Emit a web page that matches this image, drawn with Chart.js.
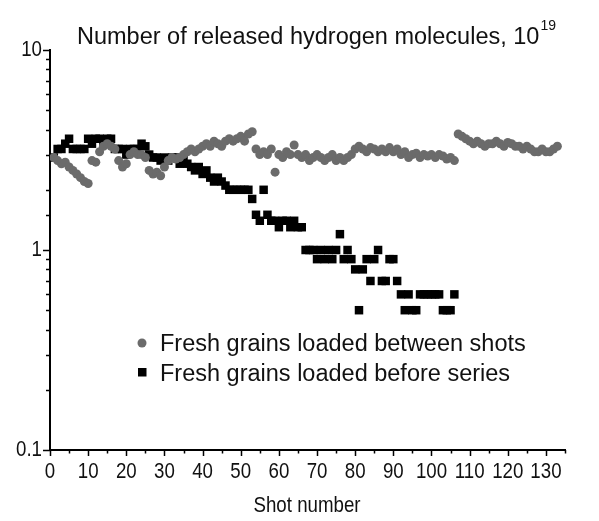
<!DOCTYPE html>
<html>
<head>
<meta charset="utf-8">
<script src="https://cdn.jsdelivr.net/npm/chart.js@4.4.1/dist/chart.umd.min.js"></script>
<style>
  body { margin: 0; background: #fff; }
  #wrap { width: 599px; height: 521px; }
</style>
</head>
<body>
<div id="wrap"><canvas id="shotChart" width="599" height="521"></canvas></div>
<script>
// shots 1..133, fresh grains loaded between shots (grey dots)
var betweenShots = [
    2.9, 2.8, 2.7, 2.75, 2.6, 2.5, 2.4, 2.3, 2.2, 2.15,
    2.8, 2.75, 3.1, 3.3, 3.4, 3.3, 3.2, 2.8, 2.6, 2.7,
    3.0, 3.1, 3.0, 3.0, 2.9, 2.5, 2.4, 2.45, 2.35, 2.6,
    2.8, 2.9, 2.85, 2.9, 3.0, 3.1, 3.2, 3.1, 3.2, 3.3,
    3.4, 3.3, 3.5, 3.4, 3.3, 3.5, 3.6, 3.5, 3.6, 3.7,
    3.5, 3.8, 3.9, 3.2, 3.0, 3.1, 3.0, 3.2, 2.45, 3.0,
    2.9, 3.1, 3.0, 3.35, 3.0, 2.9, 3.0, 2.8, 2.9, 3.0,
    2.9, 2.8, 2.9, 3.0, 2.8, 2.9, 2.8, 2.9, 3.0, 3.2,
    3.3, 3.2, 3.1, 3.25, 3.2, 3.1, 3.2, 3.1, 3.25, 3.1,
    3.2, 3.0, 3.1, 2.9, 3.0, 3.05, 2.9, 3.0, 2.95, 3.0,
    2.9, 3.0, 2.95, 2.85, 2.9, 2.8, 3.8, 3.7, 3.6, 3.5,
    3.4, 3.5, 3.4, 3.3, 3.4, 3.4, 3.5, 3.4, 3.3, 3.45,
    3.4, 3.3, 3.3, 3.2, 3.3, 3.2, 3.1, 3.1, 3.2, 3.1,
    3.1, 3.2, 3.3
];
// shots 1..106, fresh grains loaded before series (black squares)
var beforeSeries = [
    2.9, 3.2, 3.2, 3.4, 3.6, 3.2, 3.2, 3.2, 3.2, 3.6,
    3.4, 3.6, 3.6, 3.4, 3.6, 3.6, 3.2, 3.2, 3.2, 3.0,
    3.2, 3.2, 3.2, 3.4, 3.3, 3.0, 2.9, 2.9, 2.8, 2.9,
    2.8, 2.9, 2.9, 2.7, 2.9, 2.7, 2.6, 2.5, 2.6, 2.4,
    2.5, 2.3, 2.2, 2.3, 2.2, 2.1, 2.0, 2.0, 2.0, 2.0,
    2.0, 2.0, 1.8, 1.5, 1.4, 2.0, 1.5, 1.4, 1.4, 1.3,
    1.4, 1.4, 1.3, 1.4, 1.3, 1.3, 1.0, 1.0, 1.0, 0.9,
    1.0, 0.9, 1.0, 0.9, 1.0, 1.2, 0.9, 1.0, 0.9, 0.8,
    0.5, 0.8, 0.9, 0.7, 0.9, 1.0, 0.7, 0.7, 0.9, 0.9,
    0.7, 0.6, 0.5, 0.6, 0.5, 0.5, 0.6, 0.6, 0.6, 0.6,
    0.6, 0.6, 0.5, 0.5, 0.5, 0.6
];
var firstShot = 1;
var xTickLabels = ['0', '10', '20', '30', '40', '50', '60', '70', '80', '90', '100', '110', '120', '130'];
var yTickLabels = ['0.1', '1', '10'];
var seriesNames = ['Fresh grains loaded between shots', 'Fresh grains loaded before series'];

var FONT = '"Liberation Sans", Arial, sans-serif';
var GREY = '#6b6b6b';
var SQUEEZE = 0.85; // axis texts in the original are narrow

function toPoints(values) {
    return values.map((v, i) => ({ x: firstShot + i, y: v }));
}

function narrowText(ctx, text, x, y, align) {
    ctx.save();
    ctx.translate(x, y);
    ctx.scale(SQUEEZE, 1);
    ctx.textAlign = align;
    ctx.fillText(text, 0, 0);
    ctx.restore();
}

function tickName(v) {
    return String(Number(v.toPrecision(3)));
}

// tick marks (long/short), tick labels, titles and the legend inside the plot
var decorations = {
    id: 'decorations',
    afterDraw(chart) {
        var ctx = chart.ctx;
        var xs = chart.scales.x, ys = chart.scales.y;
        ctx.save();
        ctx.strokeStyle = '#000';
        ctx.lineWidth = 1.5;
        ctx.beginPath();
        xs.ticks.forEach(t => {
            var px = Math.round(xs.getPixelForValue(t.value)) + 0.5;
            var len = t.value % 10 === 0 ? 6 : 3.5;
            ctx.moveTo(px, xs.top);
            ctx.lineTo(px, xs.top + len);
        });
        ys.ticks.forEach(t => {
            var py = Math.round(ys.getPixelForValue(t.value)) + 0.5;
            var lg = Math.log10(t.value);
            var len = Math.abs(lg - Math.round(lg)) < 1e-6 ? 7 : 4;
            ctx.moveTo(ys.right, py);
            ctx.lineTo(ys.right - len, py);
        });
        ctx.stroke();

        ctx.fillStyle = '#111';
        ctx.textBaseline = 'alphabetic';
        ctx.font = '22px ' + FONT;
        xs.ticks.forEach(t => {
            var s = tickName(t.value);
            if (xTickLabels.indexOf(s) < 0) return;
            narrowText(ctx, s, xs.getPixelForValue(t.value), xs.top + 28, 'center');
        });
        ys.ticks.forEach(t => {
            var s = tickName(t.value);
            if (yTickLabels.indexOf(s) < 0) return;
            narrowText(ctx, s, ys.right - 8, ys.getPixelForValue(t.value) + 6, 'right');
        });

        ctx.font = '22px ' + FONT;
        narrowText(ctx, 'Shot number', 307, 512, 'center');

        ctx.textAlign = 'left';
        var title = 'Number of released hydrogen molecules, 10';
        ctx.font = '23.5px ' + FONT;
        ctx.fillText(title, 77, 44);
        var tw = ctx.measureText(title).width;
        ctx.font = '14px ' + FONT;
        ctx.fillText('19', 77 + tw + 1, 30);

        // legend
        ctx.fillStyle = GREY;
        ctx.beginPath();
        ctx.arc(142, 343, 4.5, 0, Math.PI * 2);
        ctx.fill();
        ctx.fillStyle = '#000';
        ctx.fillRect(138, 368, 8.5, 8.5);
        ctx.fillStyle = '#111';
        ctx.font = '23.5px ' + FONT;
        ctx.fillText(seriesNames[0], 160, 351);
        ctx.fillText(seriesNames[1], 160, 381);
        ctx.restore();
    }
};

var ctx = document.getElementById('shotChart').getContext('2d');
var shotChart = new Chart(ctx, {
    type: 'scatter',
    data: {
        datasets: [{
            label: seriesNames[0],
            data: toPoints(betweenShots),
            pointStyle: 'circle',
            pointRadius: 4.5,
            borderWidth: 0,
            backgroundColor: GREY
        }, {
            label: seriesNames[1],
            data: toPoints(beforeSeries),
            pointStyle: 'rect',
            pointRadius: 6,
            borderWidth: 0,
            backgroundColor: '#000'
        }]
    },
    options: {
        responsive: false,
        animation: false,
        layout: { padding: { left: 0, right: 34, top: 50, bottom: 0 } },
        plugins: {
            legend: { display: false },
            tooltip: { enabled: false }
        },
        scales: {
            x: {
                type: 'linear',
                min: 0,
                max: 135,
                afterFit: function (s) { s.height = 71; },
                border: { color: '#000', width: 2 },
                grid: { display: false, drawTicks: false },
                ticks: { stepSize: 5, autoSkip: false, display: false }
            },
            y: {
                type: 'logarithmic',
                min: 0.1,
                max: 10,
                afterFit: function (s) { s.width = 50; },
                border: { color: '#000', width: 2 },
                grid: { display: false, drawTicks: false },
                ticks: { autoSkip: false, display: false }
            }
        }
    },
    plugins: [decorations]
});
</script>
</body>
</html>
